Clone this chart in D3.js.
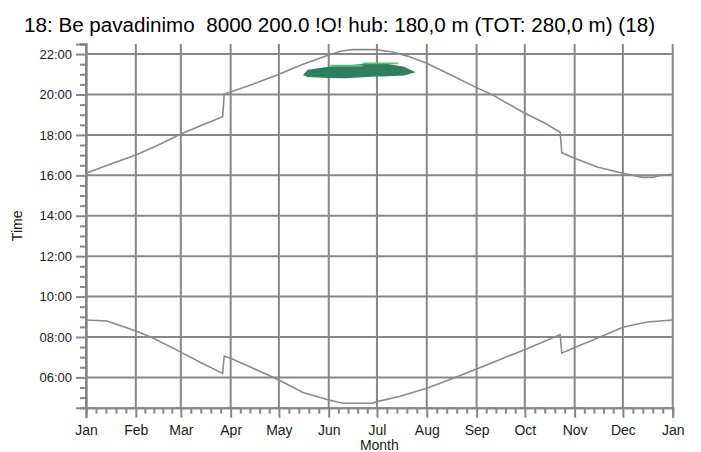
<!DOCTYPE html>
<html><head><meta charset="utf-8">
<script src="https://cdn.jsdelivr.net/npm/d3@7"></script>
<style>
html,body{margin:0;padding:0;background:#fff;}
svg{display:block;font-family:"Liberation Sans",Arial,sans-serif;}
</style></head>
<body><svg id="chart" width="701" height="452"></svg>
<script>
const titleText = "18: Be pavadinimo  8000 200.0 !O! hub: 180,0 m (TOT: 280,0 m) (18)";
const monthLabels = ["Jan","Feb","Mar","Apr","May","Jun","Jul","Aug","Sep","Oct","Nov","Dec","Jan"];
const monthStartDays = [0,31,59,90,120,151,181,212,243,273,304,334,365];
const hourTicks = [6,8,10,12,14,16,18,20,22];

const sunsetDays  = [0,15,31,45,59,72,85,86,90,105,120,135,151,159,166,180,190,200,212,228,243,253,273,285,295,296,304,318,334,340,346,352,358,365];
const sunsetTimes = [16.1,16.55,17.01,17.5,18.05,18.48,18.9,20.03,20.12,20.55,21.0,21.5,21.96,22.15,22.22,22.22,22.12,21.9,21.55,20.93,20.34,19.98,19.07,18.6,18.13,17.12,16.85,16.41,16.1,16.0,15.9,15.9,16.0,16.05];

const sunriseDays  = [0,13,31,42,59,71,85,86,90,105,120,135,151,160,178,181,195,212,228,243,258,274,285,295,296,304,318,334,349,365];
const sunriseTimes = [8.84,8.79,8.30,7.94,7.25,6.75,6.2,7.06,6.95,6.42,5.87,5.25,4.88,4.72,4.72,4.8,5.05,5.46,5.95,6.42,6.9,7.41,7.78,8.12,7.2,7.48,7.94,8.48,8.74,8.84];

const flickerDays = [135,138,151,161,172,180,188,198,205];
const flickerLow  = [20.97,20.87,20.82,20.81,20.85,20.89,20.9,20.94,21.1];
const flickerHigh = [20.97,21.22,21.38,21.44,21.51,21.51,21.51,21.38,21.1];

const lightDays = [152,172,172,194];
const lightLow  = [21.37,21.37,21.5,21.5];
const lightHigh = [21.47,21.47,21.59,21.59];

const svg = d3.select("#chart");
const L = 86, R = 672.7, T = 44, B = 407.7;
const x = d3.scaleLinear().domain([0,365]).range([L,R]);
const y = d3.scaleLinear().domain([4.5,22.5]).range([B,T]);
const gridCol = "#878787";
const lineCol = "#8a8a8a";
const textCol = "#1a1a1a";

svg.append("rect").attr("width",701).attr("height",452).attr("fill","#fff");

// title
svg.append("text").attr("x",24).attr("y",32).attr("font-size",20).attr("fill","#000")
  .attr("textLength",631).attr("lengthAdjust","spacingAndGlyphs")
  .style("white-space","pre").text(titleText);

// grid
svg.append("g").selectAll("line").data(monthStartDays).join("line")
  .attr("x1",d=>x(d)).attr("x2",d=>x(d)).attr("y1",T).attr("y2",B)
  .attr("stroke",gridCol).attr("stroke-width",2);
svg.append("g").selectAll("line").data(hourTicks).join("line")
  .attr("x1",L).attr("x2",R).attr("y1",d=>y(d)).attr("y2",d=>y(d))
  .attr("stroke",gridCol).attr("stroke-width",2);

// flicker areas
const area = d3.area().x(d=>x(d[0])).y0(d=>y(d[1])).y1(d=>y(d[2]));
svg.append("path").datum(flickerDays.map((d,i)=>[d,flickerLow[i],flickerHigh[i]]))
  .attr("d",area).attr("fill","#2e7f5d");
svg.append("path").datum(lightDays.map((d,i)=>[d,lightLow[i],lightHigh[i]]))
  .attr("d",area).attr("fill","#5cbf78");

// curves
const line = d3.line().x(d=>x(d[0])).y(d=>y(d[1]));
svg.append("path").datum(sunsetDays.map((d,i)=>[d,sunsetTimes[i]]))
  .attr("d",line).attr("fill","none").attr("stroke",lineCol).attr("stroke-width",1.6);
svg.append("path").datum(sunriseDays.map((d,i)=>[d,sunriseTimes[i]]))
  .attr("d",line).attr("fill","none").attr("stroke",lineCol).attr("stroke-width",1.6);

// y axis
const fmt = h => String(h).padStart(2,"0")+":00";
const yAxis = d3.axisLeft(y).tickValues(hourTicks).tickFormat(fmt).tickSize(10).tickPadding(4);
const gy = svg.append("g").attr("transform",`translate(${L},0)`).call(yAxis);
const minorH = d3.range(4.5,22.51,0.5).filter(h=>!hourTicks.includes(h));
const yMinor = d3.axisLeft(y).tickValues(minorH).tickFormat("").tickSize(6);
const gym = svg.append("g").attr("transform",`translate(${L},0)`).call(yMinor);

// x axis
const xAxis = d3.axisBottom(x).tickValues(monthStartDays).tickFormat((d,i)=>monthLabels[i]).tickSize(10).tickPadding(7);
const gx = svg.append("g").attr("transform",`translate(0,${B})`).call(xAxis);
const minorD = [];
for (let i=0;i<12;i++){ const a=monthStartDays[i], b=monthStartDays[i+1]; for(let k=1;k<5;k++) minorD.push(a+(b-a)*k/5); }
const xMinor = d3.axisBottom(x).tickValues(minorD).tickFormat("").tickSize(6);
const gxm = svg.append("g").attr("transform",`translate(0,${B})`).call(xMinor);

[gy,gym,gx,gxm].forEach(g=>{
  g.select(".domain").attr("stroke",gridCol).attr("stroke-width",2);
  g.selectAll(".tick line").attr("stroke",gridCol).attr("stroke-width",2);
  g.selectAll("text").attr("fill",textCol).attr("font-family","Liberation Sans, Arial, sans-serif");
});
gy.selectAll("text").attr("font-size",13);
gx.selectAll("text").attr("font-size",14);

// axis titles
svg.append("text").attr("x",(L+R)/2).attr("y",450).attr("text-anchor","middle")
  .attr("font-size",14).attr("fill",textCol).text("Month");
svg.append("text").attr("transform",`translate(22,${(T+B)/2}) rotate(-90)`).attr("text-anchor","middle")
  .attr("font-size",14).attr("fill",textCol).text("Time");
</script></body></html>
